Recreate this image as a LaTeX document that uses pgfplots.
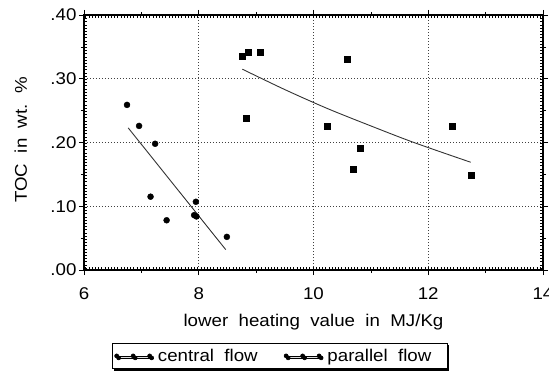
\documentclass[border=0pt]{standalone}
\usepackage{fontspec}
\setmainfont[FakeStretch=1.1]{Liberation Sans}
\usepackage{pgfplots}
\pgfplotsset{compat=1.18}
\usetikzlibrary{shadows}

\newcommand\chartfont{\fontsize{17}{19}\selectfont}

% TOC content against lower heating value, two flow configurations
\pgfplotstableread{
x     y
6.75  0.259
6.96  0.226
7.24  0.198
7.16  0.115
7.44  0.078
7.95  0.107
7.92  0.086
7.96  0.084
8.49  0.052
}\central

\pgfplotstableread{
x     y
8.76  0.336
8.87  0.342
9.07  0.341
8.83  0.238
10.58 0.331
10.24 0.226
10.82 0.191
10.70 0.158
12.42 0.225
12.74 0.148
}\parallel

\begin{document}
\begin{tikzpicture}
\path[use as bounding box] (-84pt,-102pt) rectangle (465pt,270pt);
\begin{axis}[
  at={(0pt,0pt)}, anchor=south west,
  scale only axis, width=459pt, height=255pt,
  xmin=6, xmax=14, ymin=0, ymax=0.4,
  xtick={6,8,10,12,14},
  ytick={0,0.1,0.2,0.3,0.4},
  yticklabels={.00,.10,.20,.30,.40},
  minor tick num=1,
  tick align=outside,
  major tick length=5pt, minor tick length=3pt,
  tick style={black, line width=0.6pt},
  axis line style={black, line width=1.2pt},
  grid=major,
  major grid style={black!75, line width=0.7pt, dash pattern=on 1.2pt off 1.8pt},
  tick label style={font=\chartfont},
  label style={font=\chartfont},
  /pgf/number format/assume math mode=true,
  xticklabel style={yshift=-9pt},
  yticklabel style={xshift=1pt},
  xlabel={lower\ \ heating\ \ value\ \ in\ \ MJ/Kg},
  ylabel={TOC\ \ in\ \ wt.\ \ \%},
  xlabel style={at={(axis description cs:0.5,0)}, anchor=base, yshift=-56pt},
  ylabel style={at={([xshift=-57pt]axis description cs:0,0.51)}, anchor=base},
  legend columns=2,
  legend style={
    at={(0.061,-0.285)}, anchor=north west,
    draw=black, line width=0.6pt, fill=white,
    drop shadow={shadow xshift=2pt, shadow yshift=-2pt, fill=black, opacity=1},
    font=\chartfont,
    inner xsep=2pt, inner ysep=2pt,
    nodes={inner ysep=4pt},
    /tikz/every odd column/.append style={column sep=4pt},
    /tikz/every even column/.append style={column sep=24pt},
  },
  legend image code/.code={
    \draw[black, line width=0.7pt] (0pt,0pt) -- (37pt,0pt);
    \fill[black] (2pt,0pt) circle (2pt) (18.5pt,0pt) circle (2pt) (35pt,0pt) circle (2pt);
  },
  after end axis/.code={
    % dense inner tick marks along the frame
    \draw[black, line width=3pt, dash pattern=on 0.8pt off 2.4pt]
      ([xshift=1.5pt,yshift=1.5pt]rel axis cs:0,0) -- ([xshift=1.5pt,yshift=-1.5pt]rel axis cs:0,1);
    \draw[black, line width=3pt, dash pattern=on 0.8pt off 2.4pt]
      ([xshift=1.5pt,yshift=1.5pt]rel axis cs:0,0) -- ([xshift=-1.5pt,yshift=1.5pt]rel axis cs:1,0);
    \draw[black, line width=3pt, dash pattern=on 0.8pt off 2.4pt]
      ([xshift=1.5pt,yshift=-1.5pt]rel axis cs:0,1) -- ([xshift=-1.5pt,yshift=-1.5pt]rel axis cs:1,1);
    \draw[black, line width=3pt, dash pattern=on 0.8pt off 2.4pt]
      ([xshift=-1.5pt,yshift=1.5pt]rel axis cs:1,0) -- ([xshift=-1.5pt,yshift=-1.5pt]rel axis cs:1,1);
  },
]
\addplot[only marks, mark=*, mark size=3pt, black] table[x=x,y=y] {\central};
\addlegendentry{central\ \ flow}
\addplot[only marks, mark=square*, mark size=3pt, black] table[x=x,y=y] {\parallel};
\addlegendentry{parallel\ \ flow\kern12pt\mbox{}}
% fitted trends
\addplot[black!80, line width=0.9pt, forget plot] coordinates {(6.77,0.223) (8.47,0.032)};
\addplot[black!80, line width=0.9pt, smooth, forget plot] coordinates {
  (8.76,0.315) (9.5,0.283) (10.25,0.253) (11.0,0.226) (11.75,0.200) (12.74,0.169)};
\end{axis}
\end{tikzpicture}
\end{document}
